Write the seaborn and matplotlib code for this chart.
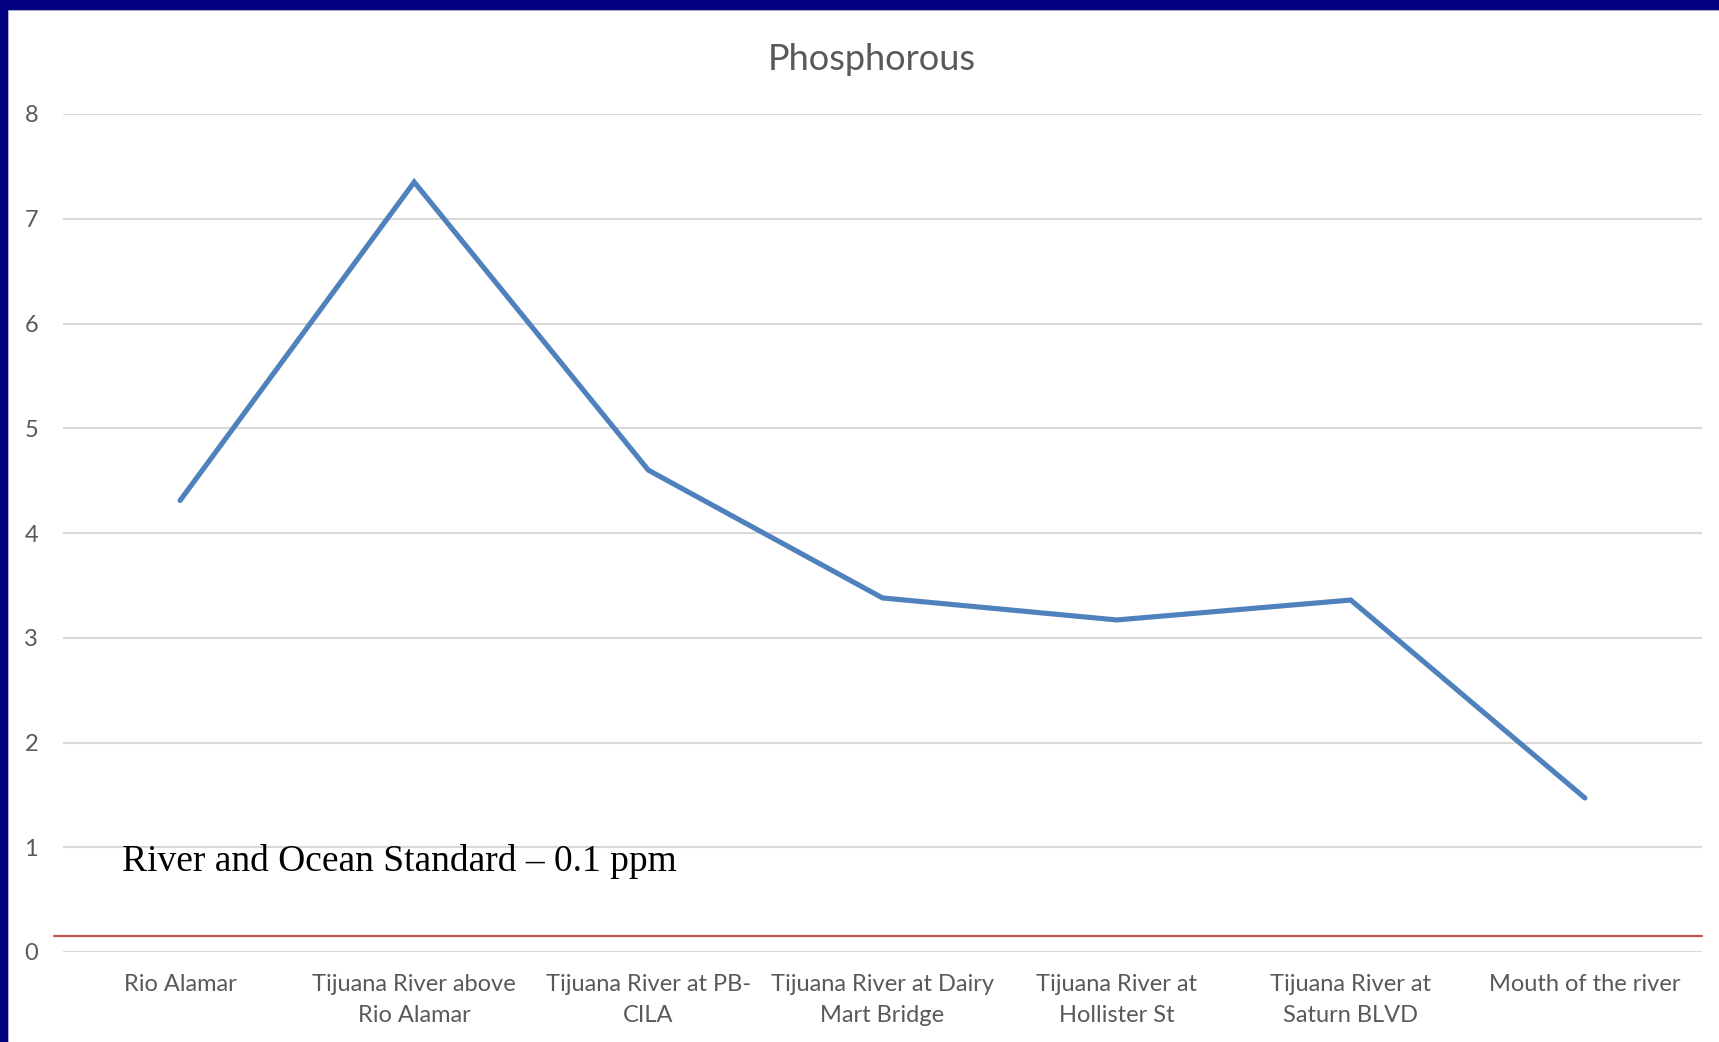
import matplotlib
matplotlib.use("Agg")
import matplotlib.pyplot as plt
import seaborn as sns
import pandas as pd
from matplotlib.patches import Rectangle
from matplotlib.lines import Line2D

# ---- data ----
sites = [
    "Rio Alamar",
    "Tijuana River above\nRio Alamar",
    "Tijuana River at PB-\nCILA",
    "Tijuana River at Dairy\nMart Bridge",
    "Tijuana River at\nHollister St",
    "Tijuana River at\nSaturn BLVD",
    "Mouth of the river",
]
phosphorous = [4.31, 7.35, 4.60, 3.38, 3.17, 3.36, 1.47]
standard_level = 0.15
yticks = [0, 1, 2, 3, 4, 5, 6, 7, 8]
title = "Phosphorous"
note = "River and Ocean Standard \u2013 0.1 ppm"

df = pd.DataFrame({"site": sites, "value": phosphorous})

sns.set_theme(style="white")
plt.rcParams["font.family"] = ["Lato", "DejaVu Sans"]

W, H = 1719, 1042
fig = plt.figure(figsize=(W / 100, H / 100), dpi=100)
fig.patch.set_facecolor("white")

left, right, top, bottom = 63, 1702, 114, 952
ax = fig.add_axes([left / W, 1 - bottom / H, (right - left) / W, (bottom - top) / H])
ax.set_facecolor("white")

sns.lineplot(data=df, x="site", y="value", ax=ax, color="#4F81BD", linewidth=3.7,
             sort=False, solid_capstyle="round", solid_joinstyle="miter", zorder=3)

ax.set_xlim(-0.5, len(sites) - 0.5)
ax.set_ylim(0, 8)
ax.set_yticks(yticks)
ax.set_yticklabels([str(t) for t in yticks])
ax.yaxis.grid(True, color="#D9D9D9", linewidth=1.5)
ax.xaxis.grid(False)
for s in ax.spines.values():
    s.set_visible(False)
ax.set_xlabel("")
ax.set_ylabel("")
ax.tick_params(axis="both", length=0, labelcolor="#595959", labelsize=17)
ax.tick_params(axis="y", pad=18)
ax.tick_params(axis="x", pad=16)
for lbl in ax.get_xticklabels():
    lbl.set_horizontalalignment("center")
    lbl.set_multialignment("center")
    lbl.set_linespacing(1.6)
for lbl in ax.get_yticklabels():
    lbl.set_horizontalalignment("right")

# standard line (extends slightly left of the plot area)
ax.axhline(standard_level, xmin=-0.0055, xmax=1.0, color="#C0504D", linewidth=1.6,
           clip_on=False, zorder=2)

ax.text(0.036, 0.77, note, transform=ax.get_yaxis_transform(), fontsize=27,
        family=["Liberation Serif", "DejaVu Serif"], color="black", va="baseline", ha="left")

fig.text(872 / W, 1 - 60 / H, title, ha="center", va="center", fontsize=26, color="#595959")

# chart-area border lines and navy frame
fig.lines.append(Line2D([7 / W, 1], [1 - 10 / H, 1 - 10 / H], transform=fig.transFigure,
                        color="#D9D9D9", linewidth=1.5))
fig.lines.append(Line2D([8 / W, 8 / W], [0, 1 - 9 / H], transform=fig.transFigure,
                        color="#D9D9D9", linewidth=1.5))
fig.patches.append(Rectangle((0, 1 - 9 / H), 1, 9 / H, transform=fig.transFigure,
                             color="#000080", zorder=10))
fig.patches.append(Rectangle((0, 0), 7 / W, 1, transform=fig.transFigure,
                             color="#000080", zorder=10))

fig.savefig("out.png", dpi=100, facecolor="white")
